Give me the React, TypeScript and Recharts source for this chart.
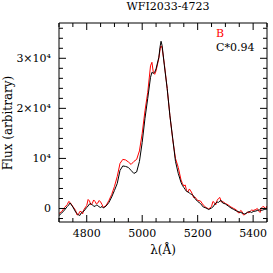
import React from 'react';
import { LineChart, Line, XAxis, YAxis } from 'recharts';

const wavelength = [
  4700, 4710, 4720, 4730, 4735, 4740, 4750, 4760, 4765, 4770,
  4775, 4780, 4785, 4790, 4800, 4805, 4810, 4815, 4820, 4825,
  4830, 4835, 4840, 4845, 4850, 4855, 4860, 4870, 4880, 4890,
  4900, 4910, 4920, 4930, 4940, 4950, 4960, 4970, 4980, 4990,
  5000, 5010, 5020, 5030, 5035, 5040, 5045, 5050, 5060, 5065,
  5068, 5072, 5080, 5090, 5100, 5110, 5120, 5130, 5140, 5145,
  5150, 5155, 5160, 5165, 5170, 5175, 5180, 5185, 5190, 5200,
  5210, 5220, 5230, 5240, 5250, 5255, 5260, 5265, 5270, 5275,
  5280, 5285, 5290, 5300, 5310, 5320, 5330, 5340, 5345, 5350,
  5355, 5360, 5365, 5370, 5380, 5385, 5390, 5395, 5400, 5410,
  5415, 5420, 5425, 5430, 5435, 5440, 5445, 5450,
];

// Image B (red)
const fluxB = [
  -1000, -600, 200, 800, 1400, 1200, 400, -400, -1300, -1200,
  -600, -600, -1100, -200, 600, 1800, 1500, 700, 1000, 1700,
  1400, 900, 1100, 1600, 1300, 800, 200, 600, 1600, 2800,
  4400, 6400, 9000, 9800, 9700, 9300, 8800, 9400, 9800, 11500,
  15000, 19500, 23200, 28500, 29200, 27200, 26800, 27500, 30000, 32000,
  32500, 32000, 28800, 24000, 18500, 13800, 10000, 8200, 5700, 5000,
  4500, 4700, 3600, 3300, 3900, 3500, 3000, 2200, 2300, 1600,
  1500, 700, 200, -100, 400, 1400, 1200, 700, 1600, 2000,
  2200, 1300, 1400, 1000, 700, 300, 0, -300, -800, -900,
  -400, -600, -1300, -1200, -700, -900, -500, -300, -400, -200,
  0, -500, -800, 100, 400, 300, -100, 500,
];

// Image C scaled by 0.94 (black)
const fluxC = [
  -1400, -900, -300, 400, 700, 1100, 300, -700, -1000, -1300,
  -1400, -900, -700, -500, 200, 500, 900, 1000, 700, 500,
  400, 700, 600, 300, 200, 400, 100, 500, 1200, 2300,
  3600, 5000, 7600, 8500, 8400, 8200, 7600, 7000, 7300, 9400,
  13200, 18000, 22000, 26200, 27200, 27000, 27200, 27900, 30200, 32500,
  33400, 32500, 28500, 24000, 18500, 14000, 9400, 7000, 5200, 4600,
  4200, 3800, 3400, 3300, 3100, 2900, 2800, 2500, 2000, 1400,
  1000, 300, 100, -200, 100, 300, 700, 1100, 1300, 1200,
  1500, 1600, 1100, 900, 500, 100, -200, -500, -600, -700,
  -800, -900, -1000, -1100, -800, -600, -700, -800, -600, -500,
  -400, -300, -300, -400, -300, -200, -200, -100,
];

const xTicks = [4700, 4750, 4800, 4850, 4900, 4950, 5000, 5050, 5100, 5150, 5200, 5250, 5300, 5350, 5400, 5450];
const xMajorTicks = [4800, 5000, 5200, 5400];
const yTicks = [-2000, 0, 2000, 4000, 6000, 8000, 10000, 12000, 14000, 16000, 18000, 20000, 22000, 24000, 26000, 28000, 30000, 32000, 34000, 36000];
const yMajorTicks = [0, 10000, 20000, 30000];
const yMajorLabels = ['0', '10⁴', '2×10⁴', '3×10⁴'];

const data = wavelength.map((w, i) => ({ w, b: fluxB[i], c: fluxC[i] }));

const FONT = '"DejaVu Serif", serif';
const MAJOR = 7;
const MINOR = 4;

const BottomTick = (props: any) => {
  const { x, y, payload } = props;
  const major = xMajorTicks.includes(payload.value);
  return (
    <g>
      <line x1={x} x2={x} y1={y} y2={y - (major ? MAJOR : MINOR)} stroke="#000" strokeWidth={1} />
      {major && (
        <text x={x} y={y + 15} textAnchor="middle" fontSize={11} fontFamily={FONT} fill="#000">
          {payload.value}
        </text>
      )}
    </g>
  );
};

const TopTick = (props: any) => {
  const { x, y, payload } = props;
  const major = xMajorTicks.includes(payload.value);
  return <line x1={x} x2={x} y1={y} y2={y + (major ? MAJOR : MINOR)} stroke="#000" strokeWidth={1} />;
};

const LeftTick = (props: any) => {
  const { x, y, payload } = props;
  const idx = yMajorTicks.indexOf(payload.value);
  const major = idx >= 0;
  return (
    <g>
      <line x1={x} x2={x + (major ? MAJOR : MINOR)} y1={y} y2={y} stroke="#000" strokeWidth={1} />
      {major && (
        <text x={x - 8} y={y + 4} textAnchor="end" fontSize={11} fontFamily={FONT} fill="#000">
          {yMajorLabels[idx]}
        </text>
      )}
    </g>
  );
};

const RightTick = (props: any) => {
  const { x, y, payload } = props;
  const major = yMajorTicks.includes(payload.value);
  return <line x1={x} x2={x - (major ? MAJOR : MINOR)} y1={y} y2={y} stroke="#000" strokeWidth={1} />;
};

export default function App() {
  return (
    <div style={{ position: 'absolute', left: 0, top: 0, width: 273, height: 273, background: '#fff' }}>
      <LineChart width={273} height={273} data={data} margin={{ top: 0, right: 0, bottom: 0, left: 0 }}>
        <XAxis
          xAxisId="bottom"
          dataKey="w"
          type="number"
          domain={[4700, 5450]}
          allowDataOverflow
          ticks={xTicks}
          interval={0}
          height={51}
          tickSize={0}
          tickMargin={0}
          tickLine={false}
          tick={<BottomTick />}
          axisLine={{ stroke: '#000' }}
        />
        <XAxis
          xAxisId="top"
          orientation="top"
          dataKey="w"
          type="number"
          domain={[4700, 5450]}
          allowDataOverflow
          ticks={xTicks}
          interval={0}
          height={23}
          tickSize={0}
          tickMargin={0}
          tickLine={false}
          tick={<TopTick />}
          axisLine={{ stroke: '#000' }}
        />
        <YAxis
          yAxisId="left"
          type="number"
          domain={[-2700, 37050]}
          allowDataOverflow
          ticks={yTicks}
          interval={0}
          width={59}
          tickSize={0}
          tickMargin={0}
          tickLine={false}
          tick={<LeftTick />}
          axisLine={{ stroke: '#000' }}
        />
        <YAxis
          yAxisId="right"
          orientation="right"
          type="number"
          domain={[-2700, 37050]}
          allowDataOverflow
          ticks={yTicks}
          interval={0}
          width={6}
          tickSize={0}
          tickMargin={0}
          tickLine={false}
          tick={<RightTick />}
          axisLine={{ stroke: '#000' }}
        />
        <Line
          xAxisId="top"
          yAxisId="right"
          dataKey="c"
          stroke="none"
          dot={false}
          activeDot={false}
          isAnimationActive={false}
        />
        <Line
          xAxisId="bottom"
          yAxisId="left"
          dataKey="b"
          type="linear"
          stroke="#ff0000"
          strokeWidth={1}
          dot={false}
          activeDot={false}
          isAnimationActive={false}
        />
        <Line
          xAxisId="bottom"
          yAxisId="left"
          dataKey="c"
          type="linear"
          stroke="#000000"
          strokeWidth={1}
          dot={false}
          activeDot={false}
          isAnimationActive={false}
        />
      </LineChart>
      <div style={{ position: 'absolute', left: 0, width: 336, top: 1, textAlign: 'center', fontFamily: FONT, fontSize: 11, color: '#000', lineHeight: '12px' }}>
        WFI2033-4723
      </div>
      <div style={{ position: 'absolute', left: 216, top: 27, fontFamily: FONT, fontSize: 11, color: '#ff0000', lineHeight: '13px' }}>
        B
      </div>
      <div style={{ position: 'absolute', left: 216, top: 41, fontFamily: FONT, fontSize: 11, color: '#000', lineHeight: '13px' }}>
        C*0.94
      </div>
      <div style={{ position: 'absolute', left: 163, top: 243, transform: 'translateX(-50%)', fontFamily: FONT, fontSize: 12, color: '#000', lineHeight: '14px', whiteSpace: 'nowrap' }}>
        λ(Å)
      </div>
      <div style={{ position: 'absolute', left: 8, top: 123, transform: 'translate(-50%, -50%) rotate(-90deg)', fontFamily: FONT, fontSize: 12, color: '#000', lineHeight: '14px', whiteSpace: 'nowrap' }}>
        Flux (arbitrary)
      </div>
    </div>
  );
}
